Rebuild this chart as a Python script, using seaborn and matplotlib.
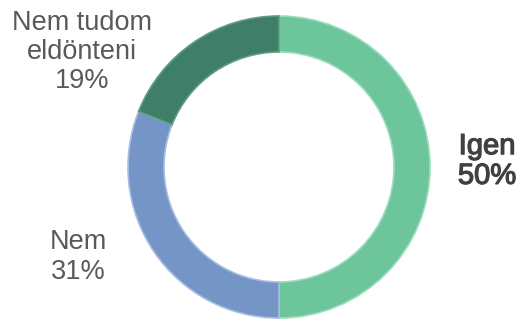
import matplotlib
matplotlib.use("Agg")
import matplotlib.pyplot as plt
import matplotlib.patheffects as pe
import seaborn as sns

categories = ["Igen", "Nem", "Nem tudom\neldönteni"]
values = [50, 31, 19]
colors = ["#6CC59B", "#7595C6", "#3F7F69"]
edge_colors = ["#9ADDBB", "#A5BDE3", "#5F9C86"]

sns.set_theme(style="white")
plt.rcParams["font.family"] = ["Liberation Sans", "DejaVu Sans"]

fig = plt.figure(figsize=(5.2, 3.22), dpi=100)
ax = fig.add_axes([0, 0, 1, 1])

cx, cy, r = 279, 155, 151
wedges, _ = ax.pie(values, colors=colors, startangle=90, counterclock=False,
                   center=(cx, cy), radius=r, frame=True,
                   wedgeprops=dict(width=36, linewidth=1.2))
for w, ec in zip(wedges, edge_colors):
    w.set_edgecolor(ec)
ax.set_xlim(0, 520)
ax.set_ylim(0, 322)
ax.set_aspect("equal")
ax.axis("off")

label_pos = [(487, 161), (78, 65), (82, 270)]
for i, (cat, val) in enumerate(zip(categories, values)):
    x, y = label_pos[i]
    txt = f"{cat}\n{val}%"
    if i == 0:
        ax.text(x, y, txt, ha="center", va="center", fontsize=21,
                color="#404040", linespacing=1.08,
                path_effects=[pe.withStroke(linewidth=0.9, foreground="#404040")])
    else:
        ax.text(x, y, txt, ha="center", va="center", fontsize=19.5,
                color="#595959", linespacing=1.17)

fig.savefig("out.png", dpi=100)
